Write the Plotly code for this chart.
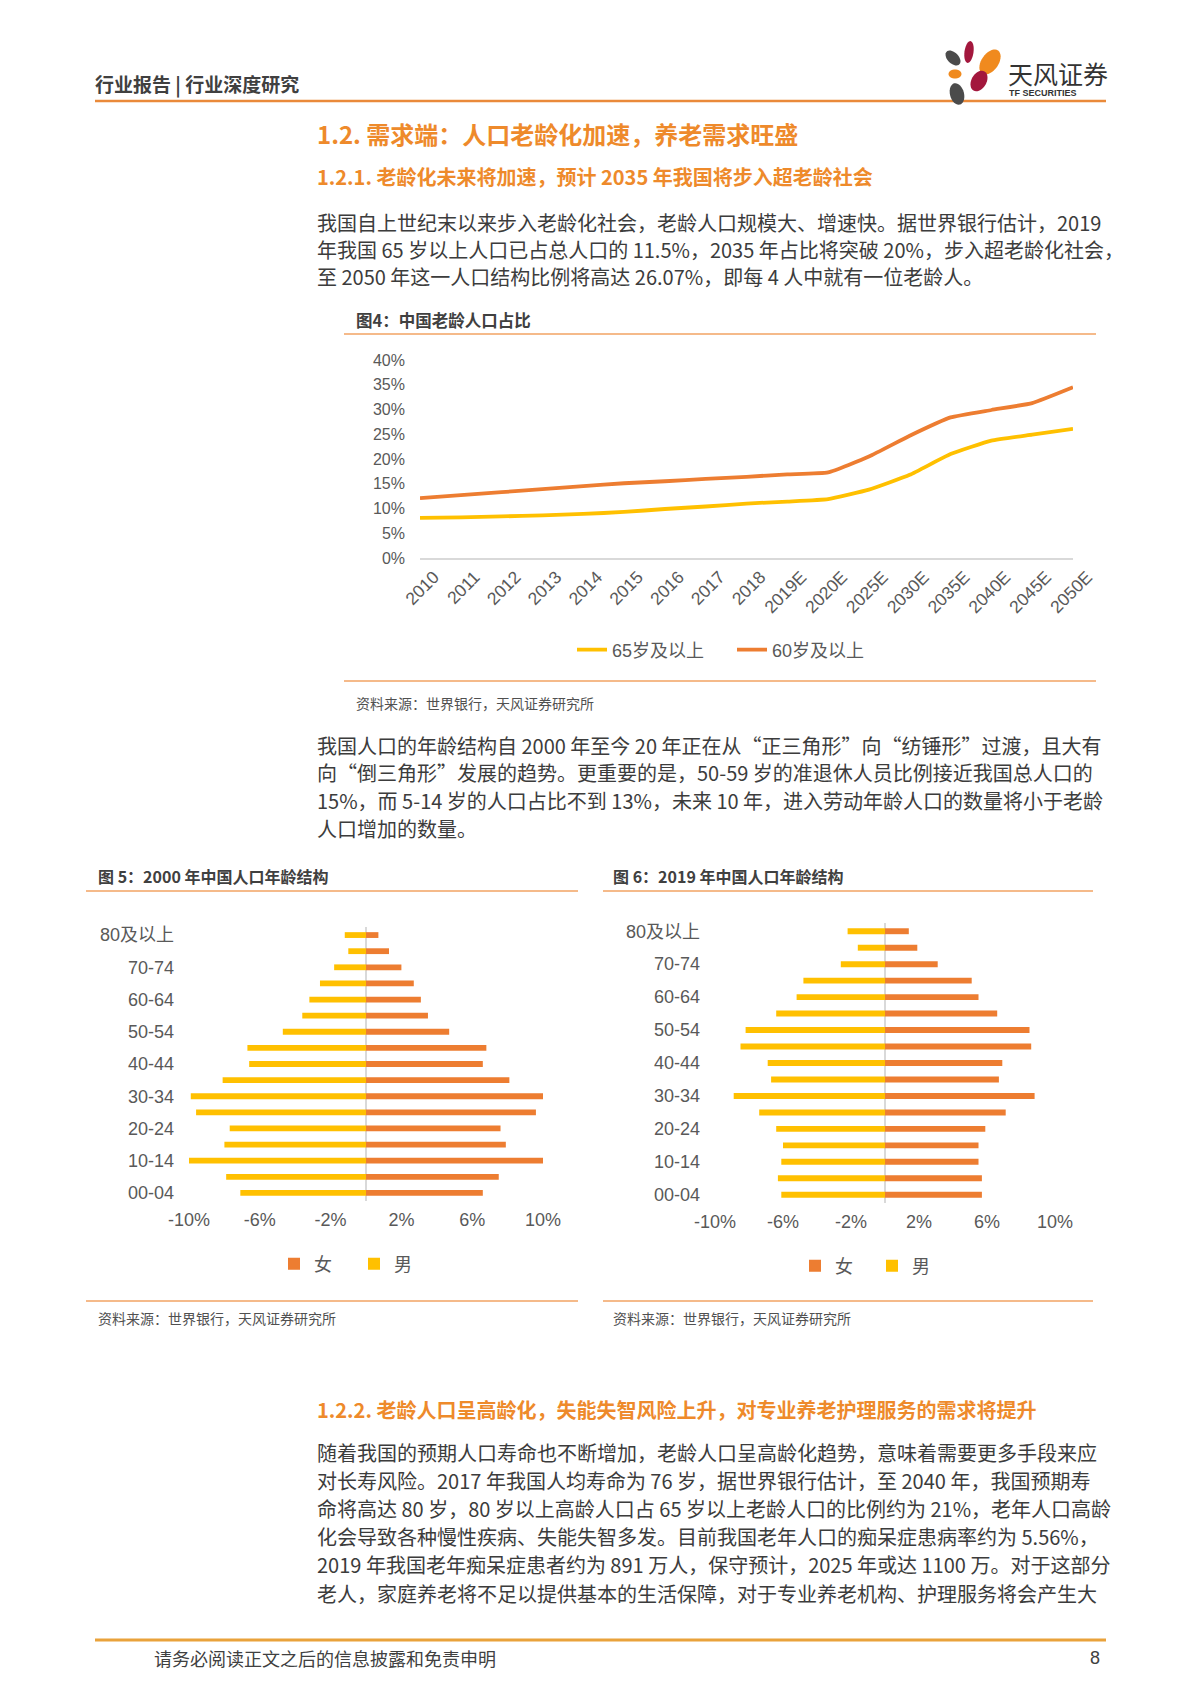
import math
import plotly.graph_objects as go

# page is 1200x1698; the browser body has an 8px margin, so the figure is 1192x1690
OFF = 8
FW, FH = 1192, 1690

# ---------------- data ----------------
years = ["2010", "2011", "2012", "2013", "2014", "2015", "2016", "2017", "2018",
         "2019E", "2020E", "2025E", "2030E", "2035E", "2040E", "2045E", "2050E"]
age65 = [8.1, 8.2, 8.4, 8.6, 8.9, 9.3, 9.9, 10.4, 11.0, 11.4, 11.9,
         13.8, 16.8, 21.0, 23.7, 24.9, 26.07]
age60 = [12.1, 12.7, 13.3, 13.9, 14.5, 15.1, 15.5, 16.0, 16.4, 16.9, 17.3,
         20.5, 24.7, 28.4, 29.9, 31.3, 34.5]

age_groups = ["00-04", "05-09", "10-14", "15-19", "20-24", "25-29", "30-34", "35-39",
              "40-44", "45-49", "50-54", "55-59", "60-64", "65-69", "70-74", "75-79", "80及以上"]
age_ticks = ["00-04", "10-14", "20-24", "30-34", "40-44", "50-54", "60-64", "70-74", "80及以上"]

female_2000 = [6.6, 7.5, 10.1, 7.9, 7.6, 9.6, 10.0, 8.1, 6.6, 6.8, 4.7, 3.5, 3.1, 2.7, 2.0, 1.3, 0.7]
male_2000 = [7.1, 7.9, 10.0, 8.0, 7.7, 9.6, 9.9, 8.1, 6.6, 6.7, 4.7, 3.6, 3.2, 2.6, 1.8, 1.0, 1.2]

female_2019 = [5.7, 5.7, 5.5, 5.5, 5.9, 7.1, 8.8, 6.7, 6.9, 8.6, 8.5, 6.6, 5.5, 5.1, 3.1, 1.9, 1.4]
male_2019 = [6.1, 6.3, 6.1, 6.0, 6.4, 7.4, 8.9, 6.7, 6.9, 8.5, 8.2, 6.4, 5.2, 4.8, 2.6, 1.6, 2.2]

x_ticks_pyr = [-10, -6, -2, 2, 6, 10]
x_ticktext_pyr = ["-10%", "-6%", "-2%", "2%", "6%", "10%"]

# ---------------- styles ----------------
ORANGE = "#ED7D31"
YELLOW = "#FFC000"
TITLE_OR = "#EE8A2B"
TXT = "#3C3C3C"
AX = "#595959"
FONT = "Liberation Sans, Noto Sans CJK SC, sans-serif"
CJK = "Noto Sans CJK SC, Liberation Sans, sans-serif"


def px(x):
    return (x - OFF) / FW


def py(y):
    return 1 - (y - OFF) / FH


fig = go.Figure()

# line chart
fig.add_trace(go.Scatter(x=years, y=age65, name="65岁及以上", mode="lines",
                         line=dict(color=YELLOW, width=3.8, shape="spline", smoothing=0.4),
                         xaxis="x", yaxis="y", legend="legend"))
fig.add_trace(go.Scatter(x=years, y=age60, name="60岁及以上", mode="lines",
                         line=dict(color=ORANGE, width=3.8, shape="spline", smoothing=0.4),
                         xaxis="x", yaxis="y", legend="legend"))

# pyramid 2000
fig.add_trace(go.Bar(y=age_groups, x=female_2000, orientation="h", name="女",
                     marker=dict(color=ORANGE, line=dict(width=0)), width=0.36,
                     xaxis="x2", yaxis="y2", legend="legend2"))
fig.add_trace(go.Bar(y=age_groups, x=[-v for v in male_2000], orientation="h", name="男",
                     marker=dict(color=YELLOW, line=dict(width=0)), width=0.36,
                     xaxis="x2", yaxis="y2", legend="legend2"))
# pyramid 2019
fig.add_trace(go.Bar(y=age_groups, x=female_2019, orientation="h", name="女",
                     marker=dict(color=ORANGE, line=dict(width=0)), width=0.36,
                     xaxis="x3", yaxis="y3", legend="legend3"))
fig.add_trace(go.Bar(y=age_groups, x=[-v for v in male_2019], orientation="h", name="男",
                     marker=dict(color=YELLOW, line=dict(width=0)), width=0.36,
                     xaxis="x3", yaxis="y3", legend="legend3"))

pyr_x = dict(range=[-10, 10], tickvals=x_ticks_pyr, ticktext=x_ticktext_pyr,
             showgrid=False, zeroline=True, zerolinecolor="#D9D9D9", zerolinewidth=2,
             showline=False, ticks="", tickfont=dict(family=FONT, size=18, color=AX),
             fixedrange=True, automargin=False, ticklabelstandoff=6)
pyr_y = dict(type="category", categoryorder="array", categoryarray=age_groups,
             tickvals=age_ticks, ticktext=age_ticks, range=[-0.5, 16.5],
             showgrid=False, zeroline=False, showline=False, ticks="",
             tickfont=dict(family=FONT, size=18, color=AX), automargin=False)

fig.update_layout(
    width=FW, height=FH, margin=dict(l=0, r=0, t=0, b=0, autoexpand=False),
    paper_bgcolor="white", plot_bgcolor="white", barmode="overlay",
    font=dict(family=FONT, color=AX),
    xaxis=dict(domain=[px(420), px(1073)], type="category", tickangle=-45,
               showgrid=False, zeroline=False, showline=True, linecolor="#D9D9D9",
               linewidth=2, ticks="", tickfont=dict(family=FONT, size=17.5, color=AX),
               anchor="y", automargin=False, ticklabelstandoff=0, ticklabelshift=14),
    yaxis=dict(domain=[py(558), py(360)], range=[0, 40], dtick=5, ticksuffix="%",
               showgrid=False, zeroline=False, showline=False, ticks="",
               tickfont=dict(family=FONT, size=16, color=AX), anchor="x",
               ticklabelstandoff=14, automargin=False),
    xaxis2=dict(domain=[px(189), px(543)], anchor="y2", **pyr_x),
    yaxis2=dict(domain=[py(1201), py(927)], anchor="x2", ticklabelstandoff=14, **pyr_y),
    xaxis3=dict(domain=[px(715), px(1055)], anchor="y3", **pyr_x),
    yaxis3=dict(domain=[py(1203), py(923)], anchor="x3", ticklabelstandoff=14, **pyr_y),
    legend=dict(orientation="h", x=px(572), y=py(650), xanchor="left", yanchor="middle",
                font=dict(family=FONT, size=18, color=AX), entrywidth=115,
                bgcolor="rgba(0,0,0,0)"),
    legend2=dict(orientation="h", x=px(274), y=py(1264), xanchor="left", yanchor="middle",
                 font=dict(family=FONT, size=18, color=AX), entrywidth=35,
                 itemwidth=30, bgcolor="rgba(0,0,0,0)"),
    legend3=dict(orientation="h", x=px(795), y=py(1266), xanchor="left", yanchor="middle",
                 font=dict(family=FONT, size=18, color=AX), entrywidth=32,
                 itemwidth=30, bgcolor="rgba(0,0,0,0)"),
    showlegend=True,
)

shapes = []


def hline(y, x0, x1, color, width):
    shapes.append(dict(type="line", xref="paper", yref="paper", x0=px(x0), x1=px(x1),
                       y0=py(y), y1=py(y), line=dict(color=color, width=width)))


hline(101, 95, 1106, "#EA8A3A", 2.5)
hline(1640, 95, 1106, "#E9A23B", 3)
hline(334, 344, 1096, "#F2A363", 1.5)
hline(681, 344, 1096, "#F2A363", 1.5)
hline(891, 86, 578, "#F2A363", 1.5)
hline(1301, 86, 578, "#F2A363", 1.5)
hline(891, 603, 1093, "#F2A363", 1.5)
hline(1301, 603, 1093, "#F2A363", 1.5)


# logo petals
def petal(cx, cy, rx, ry, ang, color):
    a = math.radians(ang)
    pts = []
    for i in range(36):
        t = 2 * math.pi * i / 36
        ex, ey = rx * math.cos(t), ry * math.sin(t)
        x = cx + ex * math.cos(a) - ey * math.sin(a)
        y = cy + ex * math.sin(a) + ey * math.cos(a)
        pts.append((px(x), py(y)))
    path = "M " + " L ".join(f"{x:.5f},{y:.5f}" for x, y in pts) + " Z"
    shapes.append(dict(type="path", xref="paper", yref="paper", path=path,
                       fillcolor=color, line=dict(width=0)))


RED = "#A3173D"
GRAY = "#4B4B4B"
LOR = "#F08A1E"
petal(969, 52, 4.5, 11, 8, RED)
petal(990, 62, 8.5, 14, 35, LOR)
petal(953, 58, 5.5, 9, -45, GRAY)
petal(955, 74, 6.5, 4.5, 0, LOR)
petal(979, 81, 7.5, 11, 30, RED)
petal(957, 94, 7, 11, -15, GRAY)

ann = []


def text(x, y, s, size, color=TXT, bold=False, family=CJK, xanchor="left"):
    if bold:
        s = "<b>" + s + "</b>"
    ann.append(dict(x=px(x), y=py(y), xref="paper", yref="paper", text=s,
                    showarrow=False, xanchor=xanchor, yanchor="middle",
                    font=dict(family=family, size=size, color=color)))


# header
text(93, 84, "行业报告 | 行业深度研究", 19, "#404040", bold=True)
text(1006, 73, "天风证券", 25, "#333333")
text(1007, 93, "TF SECURITIES", 9, "#333333", bold=True, family=FONT)

# section titles
text(315, 133, "1.2. 需求端：人口老龄化加速，养老需求旺盛", 24, TITLE_OR, bold=True)
text(315, 176, "1.2.1. 老龄化未来将加速，预计 2035 年我国将步入超老龄社会", 20, TITLE_OR, bold=True)

BODY = 20
p1 = ["我国自上世纪末以来步入老龄化社会，老龄人口规模大、增速快。据世界银行估计，2019",
      "年我国 65 岁以上人口已占总人口的 11.5%，2035 年占比将突破 20%，步入超老龄化社会，",
      "至 2050 年这一人口结构比例将高达 26.07%，即每 4 人中就有一位老龄人。"]
for i, s in enumerate(p1):
    text(315, 222 + i * 27.5, s, BODY)

text(354, 320, "图4：中国老龄人口占比", 16.5, "#404040", bold=True)
text(354, 703, "资料来源：世界银行，天风证券研究所", 14, "#505050")

p2 = ["我国人口的年龄结构自 2000 年至今 20 年正在从“正三角形”向“纺锤形”过渡，且大有",
      "向“倒三角形”发展的趋势。更重要的是，50-59 岁的准退休人员比例接近我国总人口的",
      "15%，而 5-14 岁的人口占比不到 13%，未来 10 年，进入劳动年龄人口的数量将小于老龄",
      "人口增加的数量。"]
for i, s in enumerate(p2):
    text(315, 745 + i * 27.7, s, BODY)

text(96, 876, "图 5：2000 年中国人口年龄结构", 16, "#404040", bold=True)
text(611, 876, "图 6：2019 年中国人口年龄结构", 16, "#404040", bold=True)
text(96, 1318, "资料来源：世界银行，天风证券研究所", 14, "#505050")
text(611, 1318, "资料来源：世界银行，天风证券研究所", 14, "#505050")

text(315, 1409, "1.2.2. 老龄人口呈高龄化，失能失智风险上升，对专业养老护理服务的需求将提升", 20, TITLE_OR, bold=True)
p3 = ["随着我国的预期人口寿命也不断增加，老龄人口呈高龄化趋势，意味着需要更多手段来应",
      "对长寿风险。2017 年我国人均寿命为 76 岁，据世界银行估计，至 2040 年，我国预期寿",
      "命将高达 80 岁，80 岁以上高龄人口占 65 岁以上老龄人口的比例约为 21%，老年人口高龄",
      "化会导致各种慢性疾病、失能失智多发。目前我国老年人口的痴呆症患病率约为 5.56%，",
      "2019 年我国老年痴呆症患者约为 891 万人，保守预计，2025 年或达 1100 万。对于这部分",
      "老人，家庭养老将不足以提供基本的生活保障，对于专业养老机构、护理服务将会产生大"]
for i, s in enumerate(p3):
    text(315, 1452 + i * 28.2, s, BODY)

text(152, 1658, "请务必阅读正文之后的信息披露和免责申明", 18, "#404040")
text(1102, 1658, "8", 18, "#404040", family=FONT, xanchor="right")

fig.update_layout(shapes=shapes, annotations=ann)
fig.write_html("out.html")
